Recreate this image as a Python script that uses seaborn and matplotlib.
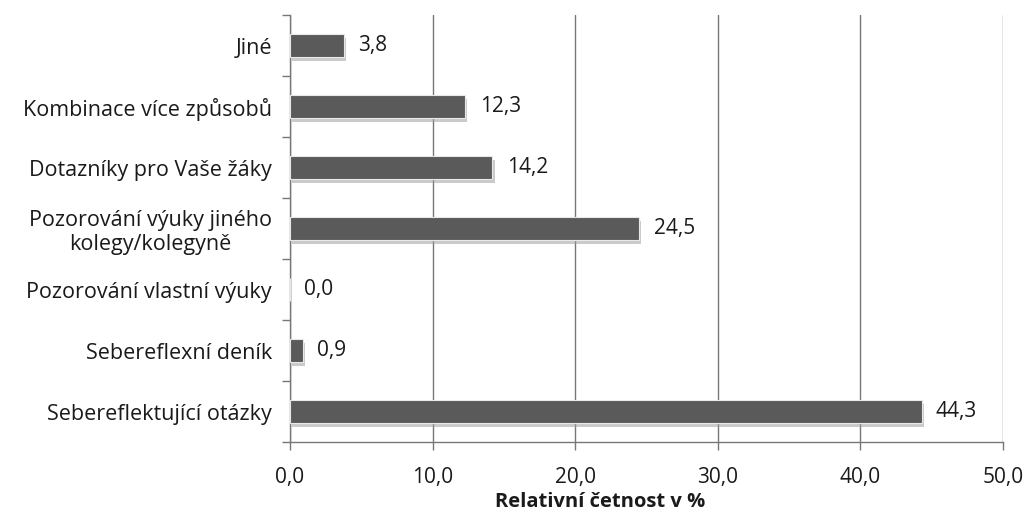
import matplotlib
matplotlib.use("Agg")
import matplotlib.pyplot as plt
import matplotlib.patheffects as pe
import seaborn as sns
import pandas as pd
import numpy as np

categories = [
    "Jiné",
    "Kombinace více způsobů",
    "Dotazníky pro Vaše žáky",
    "Pozorování výuky jiného\nkolegy/kolegyně",
    "Pozorování vlastní výuky",
    "Sebereflexní deník",
    "Sebereflektující otázky",
]
values = [3.8, 12.3, 14.2, 24.5, 0.0, 0.9, 44.3]
xticks = [0, 10, 20, 30, 40, 50]

sns.set_theme(style="white")
plt.rcParams["font.family"] = ["Open Sans", "DejaVu Sans"]

df = pd.DataFrame({"cat": categories, "val": values})

fig = plt.figure(figsize=(10.27, 5.14), dpi=100)
ax = fig.add_axes([290 / 1027, 1 - 442 / 514, 713 / 1027, 427 / 514])

sns.barplot(data=df, x="val", y="cat", orient="h", color="#5a5a5a",
            saturation=1, width=0.38, ax=ax, zorder=3)
for p in ax.patches:
    p.set_path_effects([pe.SimplePatchShadow(offset=(1.5, -3), shadow_rgbFace="#a0a0a0", alpha=0.55), pe.Normal()])
    p.set_edgecolor("#e8e8e8")
    p.set_linewidth(0.8)

ax.set_xlim(0, 50)
ax.set_ylim(len(categories) - 0.5, -0.5)
ax.set_xticks(xticks)
ax.set_xticklabels([f"{t:.1f}".replace(".", ",") for t in xticks], fontsize=15, color="#1a1a1a")
ax.xaxis.grid(True, color="#777777", linewidth=1.0, zorder=0)
ax.yaxis.grid(False)
ax.set_axisbelow(True)

ax.set_yticks(range(len(categories)))
ax.set_yticklabels(categories, fontsize=15.5, color="#1a1a1a", multialignment="center",
                   linespacing=1.2)
ax.tick_params(axis="y", length=0, pad=13)
ax.set_yticks(np.arange(-0.5, len(categories) + 0.5, 1), minor=True)
ax.tick_params(axis="y", which="minor", length=6, width=1, color="#777777", direction="out", left=True)
ax.tick_params(axis="x", length=6, width=1, color="#777777", direction="out", bottom=True, pad=12)

for s in ["top", "right"]:
    ax.spines[s].set_visible(False)
for s in ["left", "bottom"]:
    ax.spines[s].set_color("#777777")
    ax.spines[s].set_linewidth(1.0)

for i, v in enumerate(values):
    ax.text(v + 1.0, i, f"{v:.1f}".replace(".", ","), va="center", ha="left",
            fontsize=15, color="#1a1a1a", zorder=5)

ax.set_ylabel("")
ax.set_xlabel("Relativní četnost v %", fontsize=14.5, fontweight="bold", color="#1a1a1a",
              va="center", ha="center")
ax.xaxis.set_label_coords(0.435, -0.140)

fig.savefig("out.png", dpi=100)
